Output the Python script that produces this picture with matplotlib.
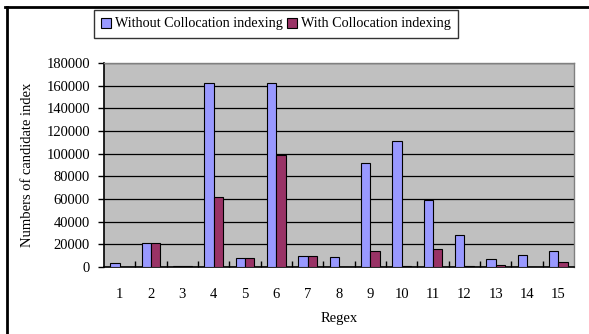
import matplotlib
matplotlib.use("Agg")
import matplotlib.pyplot as plt
from matplotlib.lines import Line2D
import numpy as np

plt.rcParams['font.family'] = ['Liberation Serif', 'DejaVu Serif']

regex = [str(i) for i in range(1, 16)]
without_colloc = [3500, 21000, 500, 162000, 8000, 162000, 10000, 9000,
                  92000, 111000, 59000, 28000, 7000, 11000, 14500]
with_colloc = [0, 21000, 500, 62000, 8000, 99000, 10000, 0,
               14500, 1000, 15500, 1000, 2000, 0, 4500]
y_ticks = list(range(0, 180001, 20000))

fig = plt.figure(figsize=(5.89, 3.34), dpi=100)
fig.patch.set_facecolor('white')

# outer chart frame (top and left edges)
fig.add_artist(Line2D([5 / 589, 1.0], [1 - 6.5 / 334, 1 - 6.5 / 334],
                      transform=fig.transFigure, color='black', lw=2))
fig.add_artist(Line2D([6.5 / 589, 6.5 / 589], [0, 1 - 6.5 / 334],
                      transform=fig.transFigure, color='black', lw=2))

ax = fig.add_axes([104 / 589, 1 - 267 / 334, 470 / 589, 204 / 334])
ax.set_facecolor('#C0C0C0')

x = np.arange(len(regex))
w = 0.3
ax.bar(x - w / 2, without_colloc, w, color='#9999FF', edgecolor='black',
       linewidth=0.8, label='Without Collocation indexing', zorder=3)
ax.bar(x + w / 2, with_colloc, w, color='#993366', edgecolor='black',
       linewidth=0.8, label='With Collocation indexing', zorder=3)

ax.set_xlim(-0.5, len(regex) - 0.5)
ax.set_ylim(0, 180000)
ax.set_yticks(y_ticks)
ax.set_yticklabels([str(v) for v in y_ticks], fontsize=10.5)
ax.yaxis.grid(True, color='black', linewidth=0.9, zorder=1)
ax.set_axisbelow(True)

ax.set_xticks(x)
ax.set_xticklabels(regex, fontsize=10.5)
ax.tick_params(axis='x', length=0, pad=15)
ax.set_xticks(np.arange(0.5, len(regex) - 0.5, 1), minor=True)
ax.tick_params(axis='x', which='minor', direction='in', length=4,
               width=1, color='black')
ax.tick_params(axis='y', direction='out', length=4, width=1, pad=6)

for side in ('top', 'right'):
    ax.spines[side].set_color('#808080')
    ax.spines[side].set_linewidth(1)
for side in ('left', 'bottom'):
    ax.spines[side].set_color('black')
    ax.spines[side].set_linewidth(1.2)

ax.set_xlabel('Regex', fontsize=10.5, labelpad=8)
ax.set_ylabel('Numbers of candidate index', fontsize=10.5, labelpad=9)

leg = fig.legend(loc='center', bbox_to_anchor=(276 / 589, 1 - 24 / 334),
                 ncol=2, fontsize=10.2, frameon=True, fancybox=False,
                 handlelength=0.7, handleheight=0.7, handletextpad=0.3,
                 columnspacing=0.3, borderpad=0.5, borderaxespad=0)
leg.get_frame().set_edgecolor('black')
leg.get_frame().set_linewidth(1)

fig.savefig('out.png', dpi=100)
